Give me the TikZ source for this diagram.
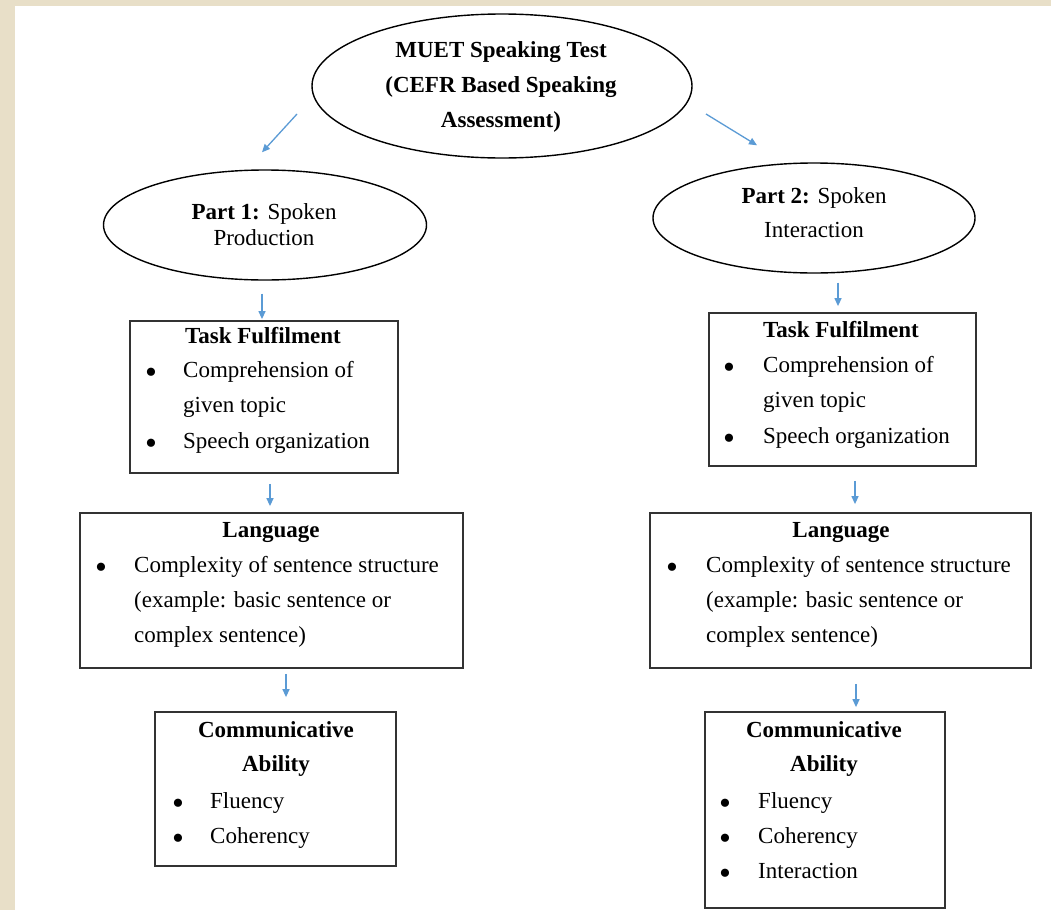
\documentclass[tikz,border=0pt]{standalone}
\usepackage{fontspec}
\setmainfont{Liberation Serif}
\usetikzlibrary{shapes.geometric,arrows.meta,calc}
\definecolor{pagebeige}{RGB}{232,223,200}
\definecolor{arrblue}{RGB}{91,155,213}
\begin{document}
\begin{tikzpicture}[x=1pt,y=-1pt,
  ell/.style={draw=black,line width=1.4pt,ellipse,inner sep=0pt},
  box/.style={draw=black!80,line width=1.8pt,rectangle,inner sep=0pt},
  arr/.style={draw=arrblue,line width=1.3pt,-{Triangle[length=8pt,width=7pt]}},
  txt/.style={font=\fontsize{23}{35}\selectfont,inner sep=0pt,anchor=base west},
  ttl/.style={font=\fontsize{23}{35}\selectfont\bfseries,inner sep=0pt,anchor=base},
  bul/.style={font=\fontsize{34}{35}\selectfont,inner sep=0pt,anchor=center,yshift=1pt},
]
\useasboundingbox (0,0) rectangle (1051,910);
\fill[pagebeige] (0,0) rectangle (1051,910);
\fill[white] (15,6) rectangle (1051,910);

% ellipses
\node[ell,minimum width=380pt,minimum height=144pt] (e0) at (502,86) {};
\node[font=\fontsize{23}{35}\selectfont\bfseries,align=center,inner sep=0pt] (t0) at (501,87) {MUET Speaking Test\\(CEFR Based Speaking\\Assessment)};
\node[ell,minimum width=323pt,minimum height=110pt] (e1) at (265,225) {};
\node[font=\fontsize{23}{26}\selectfont,align=center,inner sep=0pt] (t1txt) at (264,224.5) {\textbf{Part 1:} Spoken\\Production};
\node[ell,minimum width=322pt,minimum height=110pt] (e2) at (814,218) {};
\node[font=\fontsize{23}{34}\selectfont,align=center,inner sep=0pt] (t2txt) at (814,213) {\textbf{Part 2:} Spoken\\Interaction};

% boxes
\node[box,minimum width=268pt,minimum height=152pt] (t1) at (264,397) {};
\node[box,minimum width=267pt,minimum height=153pt] (t2) at (842.5,389.5) {};
\node[box,minimum width=383pt,minimum height=155pt] (l1) at (271.5,590.5) {};
\node[box,minimum width=381pt,minimum height=155pt] (l2) at (840.5,590.5) {};
\node[box,minimum width=241pt,minimum height=154pt] (c1) at (275.5,789) {};
\node[box,minimum width=240pt,minimum height=196pt] (c2) at (825,810) {};

% left task
\node[ttl] (t1a) at (263,343) {Task Fulfilment};
\node[bul] (t1b1) at (151,377) {\textbullet};
\node[txt] (t1b) at (183,377) {Comprehension of};
\node[txt] (t1c) at (183,412) {given topic};
\node[bul] (t1b2) at (151,448) {\textbullet};
\node[txt] (t1d) at (183,448) {Speech organization};

% right task
\node[ttl] (t2a) at (841,337) {Task Fulfilment};
\node[bul] (t2b1) at (729,372) {\textbullet};
\node[txt] (t2b) at (763,372) {Comprehension of};
\node[txt] (t2c) at (763,407) {given topic};
\node[bul] (t2b2) at (729,443) {\textbullet};
\node[txt] (t2d) at (763,443) {Speech organization};

% left language
\node[ttl] (l1a) at (271,537) {Language};
\node[bul] (l1b1) at (101,572) {\textbullet};
\node[txt] (l1b) at (134,572) {Complexity of sentence structure};
\node[txt] (l1c) at (134,607) {(example: basic sentence or};
\node[txt] (l1d) at (134,642) {complex sentence)};

% right language
\node[ttl] (l2a) at (841,537) {Language};
\node[bul] (l2b1) at (672,572) {\textbullet};
\node[txt] (l2b) at (706,572) {Complexity of sentence structure};
\node[txt] (l2c) at (706,607) {(example: basic sentence or};
\node[txt] (l2d) at (706,642) {complex sentence)};

% left communicative
\node[ttl] (c1a) at (276,737) {Communicative};
\node[ttl] (c1b) at (276,771) {Ability};
\node[bul] (c1c1) at (178,808) {\textbullet};
\node[txt] (c1c) at (210,808) {Fluency};
\node[bul] (c1d1) at (178,843) {\textbullet};
\node[txt] (c1d) at (210,843) {Coherency};

% right communicative
\node[ttl] (c2a) at (824,737) {Communicative};
\node[ttl] (c2b) at (824,771) {Ability};
\node[bul] (c2c1) at (725,808) {\textbullet};
\node[txt] (c2c) at (758,808) {Fluency};
\node[bul] (c2d1) at (725,843) {\textbullet};
\node[txt] (c2d) at (758,843) {Coherency};
\node[bul] (c2e1) at (725,878) {\textbullet};
\node[txt] (c2e) at (758,878) {Interaction};

% arrows
\draw[arr] ($(e0.center)+(-205,28)$) -- ($(e1.north)+(-3,-17)$);
\draw[arr] ($(e0.center)+(204,28)$) -- ($(e2.north)+(-57,-17)$);
\draw[arr] ($(e1.south)+(-3,13)$) -- ($(t1.north)+(-2,-1)$);
\draw[arr] ($(t1.south)+(6,10)$) -- ($(l1.north)+(-1.5,-6)$);
\draw[arr] ($(l1.south)+(14.5,5)$) -- ($(c1.north)+(10.5,-14)$);
\draw[arr] ($(e2.south)+(24,9)$) -- ($(t2.north)+(-4.5,-6)$);
\draw[arr] ($(t2.south)+(12.5,14)$) -- ($(l2.north)+(14.5,-8)$);
\draw[arr] ($(l2.south)+(15.5,15)$) -- ($(c2.north)+(31,-4)$);
\end{tikzpicture}
\end{document}
